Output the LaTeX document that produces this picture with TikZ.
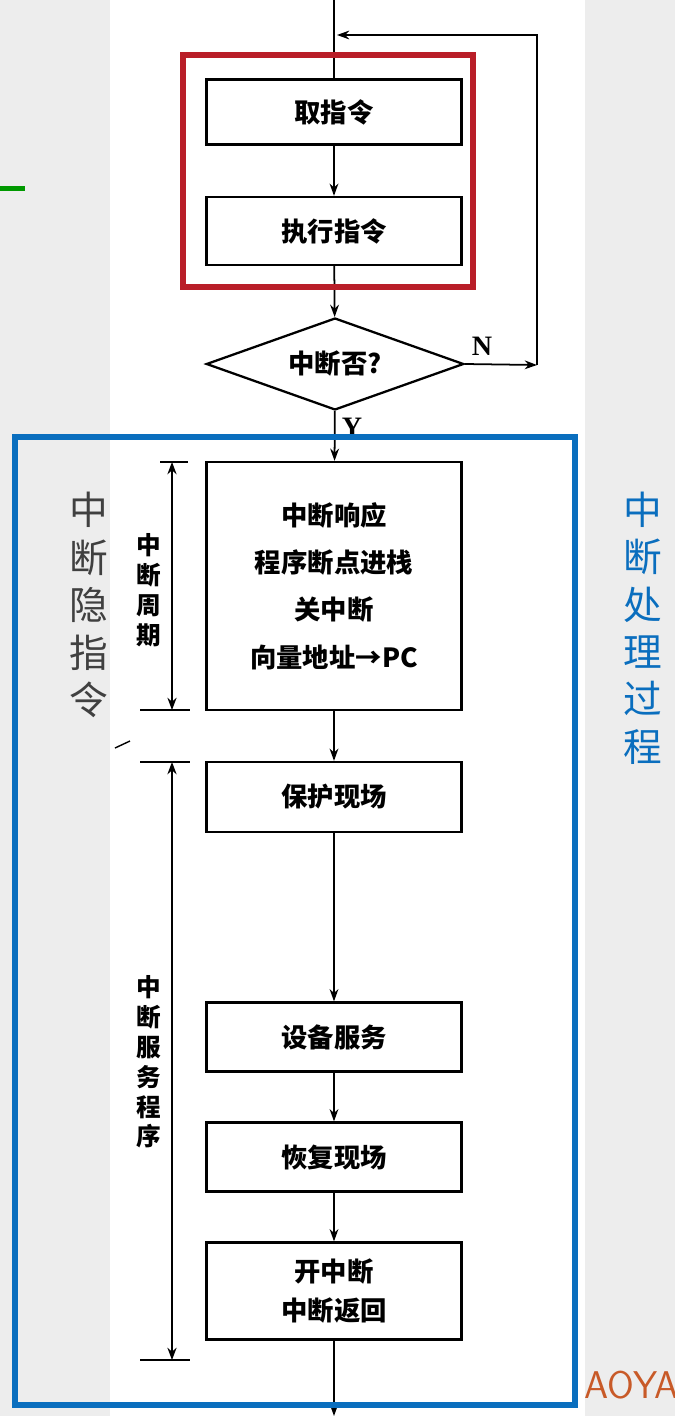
\documentclass[tikz,border=0pt]{standalone}
\usepackage{fontspec}
\setmainfont{Liberation Serif}
\newfontfamily\cjk{Noto Sans CJK SC}
\usetikzlibrary{shapes.geometric,arrows.meta}
\definecolor{boxred}{RGB}{185,30,40}
\definecolor{boxblue}{RGB}{10,110,190}
\definecolor{logoorange}{RGB}{200,90,40}
\begin{document}
\begin{tikzpicture}[x=0.02cm, y=-0.02cm,
    stepbox/.style={draw, line width=1.3pt, minimum width=5.1cm, font=\cjk\bfseries\fontsize{15}{22}\selectfont, align=center, inner sep=0pt},
    flow/.style={line width=1pt, -{Stealth[length=7pt,width=5pt]}},
    vlabel/.style={font=\cjk\fontsize{14}{17}\selectfont\bfseries, align=center, text width=1em},
    biglabel/.style={font=\cjk\fontsize{22}{27}\selectfont, align=center, text width=1em}]
    % background
    \fill[black!7] (0,0) rectangle (675,1416);
    \fill[white] (110,0) rectangle (585,1416);
    \useasboundingbox (0,0) rectangle (675,1416);
    \fill[green!60!black] (0,186) rectangle (25,191);
    % Nodes
    \node[stepbox, minimum height=1.3cm] (fetch) at (334,112) {取指令};
    \node[stepbox, minimum height=1.36cm] (exec) at (334,231) {执行指令};
    \node[draw, line width=1.3pt, diamond, aspect=2.8, minimum width=5.15cm, minimum height=1.84cm, inner sep=0pt,
          font=\cjk\bfseries\fontsize{15}{18}\selectfont] (ask) at (335,364) {中断否?};
    \node[stepbox, minimum height=4.96cm, font=\cjk\bfseries\fontsize{15}{27}\selectfont] (resp) at (334,586)
        {中断响应\\程序断点进栈\\关中断\\向量地址\textbf{→PC}};
    \node[stepbox, minimum height=1.4cm] (save) at (334,797) {保护现场};
    \node[stepbox, minimum height=1.38cm] (serve) at (334,1037) {设备服务};
    \node[stepbox, minimum height=1.38cm] (restore) at (334,1157) {恢复现场};
    \node[stepbox, minimum height=1.94cm] (ret) at (334,1291) {开中断\\中断返回};
    \coordinate (top) at (334,0);
    \coordinate (bottom) at (334,1416);
    \coordinate (nr) at (537,365);
    \coordinate (nt) at (537,35);
    \coordinate (nl) at (337,35);
    % Edges
    \draw[line width=1pt] (top) -- (fetch);
    \draw[flow] (fetch) -- (exec);
    \draw[flow] (exec) -- (ask);
    \draw[flow] (ask) -- (resp);
    \draw[flow] (resp) -- (save);
    \draw[flow] (save) -- (serve);
    \draw[flow] (serve) -- (restore);
    \draw[flow] (restore) -- (ret);
    \draw[flow] (ret) -- (bottom);
    \draw[flow] (ask.east) -- (nr);
    \draw[flow] (nr) -- (nt) -- (nl);
    \node[font=\bfseries\fontsize{16}{18}\selectfont] (n) at (482,346) {N};
    \node[font=\bfseries\fontsize{16}{18}\selectfont] (y) at (352,427) {Y};
    % frames
    \draw[boxred, line width=3pt] (183,55) rectangle (473,287);
    \draw[boxblue, line width=3pt] (15,437) rectangle (575,1405);
    % side marks
    \draw[line width=0.8pt] (160,462) -- (188,462);
    \draw[line width=0.8pt] (140,710) -- (190,710);
    \draw[line width=0.8pt] (140,762) -- (190,762);
    \draw[line width=0.8pt] (140,1360) -- (190,1360);
    \draw[line width=0.8pt] (115,748) -- (130,741);
    \draw[line width=0.8pt, {Stealth[length=7pt]}-{Stealth[length=7pt]}] (172,462) -- (172,710);
    \draw[line width=0.8pt, {Stealth[length=7pt]}-{Stealth[length=7pt]}] (172,762) -- (172,1360);
    \node[vlabel, fill=white, inner sep=1pt] (cycle) at (145,590) {中\\断\\周\\期};
    \node[vlabel, fill=white, inner sep=1pt] (isr) at (145,1062) {中\\断\\服\\务\\程\\序};
    \node[biglabel, text=black!75] (hidden) at (78,605) {中\\断\\隐\\指\\令};
    \node[biglabel, text=boxblue] (proc) at (632,628) {中\\断\\处\\理\\过\\程};
    \node[text=logoorange, font=\sffamily\fontsize{22}{24}\selectfont, anchor=west] (logo) at (578,1385) {AOYA};
\end{tikzpicture}
\end{document}
